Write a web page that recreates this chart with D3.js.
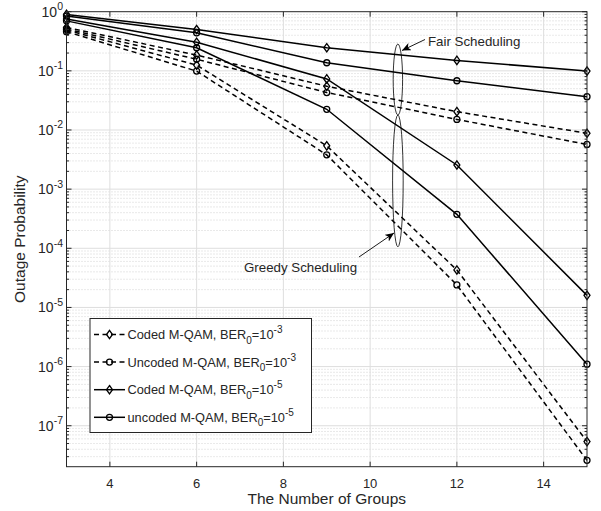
<!DOCTYPE html>
<meta charset="utf-8">
<style>
  body { margin: 0; background: #fff; }
  text { font-family: "Liberation Sans", Arial, Helvetica, sans-serif; fill: #262626; }
  .grid-major line { stroke: #dedede; stroke-width: 1; }
  .grid-minor line { stroke: #c8c8c8; stroke-width: 0.8; stroke-dasharray: 1,2; }
  .series { fill: none; stroke: #000; stroke-width: 1.5; }
  .mark { fill: none; stroke: #000; stroke-width: 1.3; }
</style>
<svg width="601" height="511"></svg>
<script src="https://d3js.org/d3.v7.min.js"></script>
<script>

// number of groups
var groups = [3, 6, 9, 12, 15];

// BER0 = 1e-3 (dashed)
var fairCoded3 = [0.54, 0.185, 0.055, 0.0204, 0.0088];
var fairUncoded3 = [0.51, 0.157, 0.043, 0.0151, 0.0057];
var greedyCoded3 = [0.49, 0.125, 0.0054, 4.3e-5, 5.4e-8];
var greedyUncoded3 = [0.46, 0.099, 0.0038, 2.4e-5, 2.6e-8];

// BER0 = 1e-5 (solid)
var fairCoded5 = [0.90, 0.50, 0.246, 0.15, 0.099];
var fairUncoded5 = [0.846, 0.44, 0.137, 0.068, 0.0366];
var greedyCoded5 = [0.75, 0.305, 0.073, 0.00256, 1.6e-5];
var greedyUncoded5 = [0.70, 0.246, 0.0224, 3.75e-4, 1.1e-6];

var xTicks = [4, 6, 8, 10, 12, 14];
var yTickExp = [0, -1, -2, -3, -4, -5, -6, -7];

var legendLabels = [
  {name: "Coded M-QAM, BER", exp: "-3"},
  {name: "Uncoded M-QAM, BER", exp: "-3"},
  {name: "Coded M-QAM, BER", exp: "-5"},
  {name: "uncoded M-QAM, BER", exp: "-5"}
];

var series = [
  {vals: fairCoded3, dash: true, mark: "d", leg: 0},
  {vals: fairUncoded3, dash: true, mark: "o", leg: 1},
  {vals: greedyCoded3, dash: true, mark: "d", leg: 0},
  {vals: greedyUncoded3, dash: true, mark: "o", leg: 1},
  {vals: fairCoded5, dash: false, mark: "d", leg: 2},
  {vals: fairUncoded5, dash: false, mark: "o", leg: 3},
  {vals: greedyCoded5, dash: false, mark: "d", leg: 2},
  {vals: greedyUncoded5, dash: false, mark: "o", leg: 3}
];

var svg = d3.select("svg");
var pLeft = 66.5, pRight = 587, pTop = 11.7, pBottom = 466.7;

var x = d3.scaleLinear().domain([3, 15]).range([pLeft, pRight]);
var y = d3.scaleLog().domain([2.03e-8, 1]).range([pBottom, pTop]);

var diamond = "M0,-4.2L3,0L0,4.2L-3,0Z";

// minor grid (log)
var minor = [];
for (var e = -8; e < 0; e++) {
  for (var k = 2; k <= 9; k++) {
    var v = k * Math.pow(10, e);
    if (v >= 2.03e-8 && v < 1) minor.push(v);
  }
}
svg.append("g").attr("class", "grid-minor")
  .selectAll("line").data(minor).enter().append("line")
  .attr("x1", pLeft).attr("x2", pRight)
  .attr("y1", d => y(d)).attr("y2", d => y(d));

svg.append("g").attr("class", "grid-major")
  .selectAll("line").data(yTickExp.slice(1)).enter().append("line")
  .attr("x1", pLeft).attr("x2", pRight)
  .attr("y1", d => y(Math.pow(10, d))).attr("y2", d => y(Math.pow(10, d)));

svg.append("g").attr("class", "grid-major")
  .selectAll("line").data(xTicks).enter().append("line")
  .attr("y1", pTop).attr("y2", pBottom)
  .attr("x1", d => x(d)).attr("x2", d => x(d));

// series
var line = d3.line().x((d, i) => x(groups[i])).y(d => y(d));

series.forEach(function(s) {
  svg.append("path").attr("class", "series")
    .attr("d", line(s.vals))
    .attr("stroke-dasharray", s.dash ? "5,3.5" : null);
  svg.append("g").selectAll(".mark").data(s.vals).enter()
    .append(s.mark == "d" ? "path" : "circle")
    .attr("class", "mark")
    .each(function(d, i) {
      var el = d3.select(this);
      if (s.mark == "d") el.attr("d", diamond).attr("transform", "translate(" + x(groups[i]) + "," + y(d) + ")");
      else el.attr("cx", x(groups[i])).attr("cy", y(d)).attr("r", 3);
    });
});

// box + ticks
var axis = svg.append("g").attr("stroke", "#262626").attr("fill", "none");
axis.append("rect").attr("x", pLeft).attr("y", pTop).attr("width", pRight - pLeft).attr("height", pBottom - pTop).attr("stroke-width", 1);

xTicks.forEach(function(t) {
  axis.append("line").attr("x1", x(t)).attr("x2", x(t)).attr("y1", pBottom).attr("y2", pBottom - 5);
  axis.append("line").attr("x1", x(t)).attr("x2", x(t)).attr("y1", pTop).attr("y2", pTop + 5);
});
yTickExp.forEach(function(t) {
  var yy = y(Math.pow(10, t));
  axis.append("line").attr("x1", pLeft).attr("x2", pLeft + 5).attr("y1", yy).attr("y2", yy);
  axis.append("line").attr("x1", pRight).attr("x2", pRight - 5).attr("y1", yy).attr("y2", yy);
});
minor.forEach(function(v) {
  var yy = y(v);
  axis.append("line").attr("x1", pLeft).attr("x2", pLeft + 2.5).attr("y1", yy).attr("y2", yy);
  axis.append("line").attr("x1", pRight).attr("x2", pRight - 2.5).attr("y1", yy).attr("y2", yy);
});

// tick labels
svg.append("g").selectAll("text").data(xTicks).enter().append("text")
  .attr("x", d => x(d)).attr("y", pBottom + 21)
  .attr("text-anchor", "middle").attr("font-size", 13)
  .text(d => d);

var yl = svg.append("g").selectAll("text").data(yTickExp).enter().append("text")
  .attr("x", 63).attr("y", d => y(Math.pow(10, d)) + 5)
  .attr("text-anchor", "end").attr("font-size", 14);
yl.append("tspan").text("10");
yl.append("tspan").attr("dy", -6.5).attr("font-size", 10.5).text(d => d == 0 ? "0" : "-" + Math.abs(d));

// axis labels
svg.append("text").attr("x", (pLeft + pRight) / 2).attr("y", 504)
  .attr("text-anchor", "middle").attr("font-size", 15.5).text("The Number of Groups");
svg.append("text").attr("transform", "translate(25," + (pTop + pBottom) / 2 + ") rotate(-90)")
  .attr("text-anchor", "middle").attr("font-size", 15.5).text("Outage Probability");

// annotations
var ellipses = [
  {g: 10.64, hi: 0.284, lo: 0.0179, rx: 4.7},
  {g: 10.64, hi: 0.0179, lo: 1.06e-4, rx: 5.3}
];
ellipses.forEach(function(el) {
  svg.append("ellipse")
    .attr("cx", x(el.g)).attr("cy", (y(el.hi) + y(el.lo)) / 2)
    .attr("rx", el.rx).attr("ry", (y(el.lo) - y(el.hi)) / 2)
    .attr("fill", "none").attr("stroke", "#000").attr("stroke-width", 0.8);
});

svg.append("defs").append("marker").attr("id", "arr")
  .attr("markerWidth", 10).attr("markerHeight", 10).attr("refX", 9).attr("refY", 4)
  .attr("orient", "auto").attr("markerUnits", "userSpaceOnUse")
  .append("path").attr("d", "M0,0L9,4L0,8L2.5,4Z").attr("fill", "#000");

svg.append("line").attr("x1", 425).attr("y1", 39.5).attr("x2", 402).attr("y2", 50.5)
  .attr("stroke", "#000").attr("stroke-width", 0.9).attr("marker-end", "url(#arr)");
svg.append("text").attr("x", 428).attr("y", 46).attr("font-size", 13.3).text("Fair Scheduling");

svg.append("line").attr("x1", 359).attr("y1", 257).attr("x2", 394).attr("y2", 233)
  .attr("stroke", "#000").attr("stroke-width", 0.9).attr("marker-end", "url(#arr)");
svg.append("text").attr("x", 244).attr("y", 271.5).attr("font-size", 13.3).text("Greedy Scheduling");

// legend
var lg = svg.append("g");
lg.append("rect").attr("x", 90).attr("y", 318.5).attr("width", 221.5).attr("height", 114)
  .attr("fill", "#fff").attr("stroke", "#262626").attr("stroke-width", 1);

var legSeries = [series[0], series[1], series[4], series[5]];
legSeries.forEach(function(s, i) {
  var yy = 334.5 + i * 27.6;
  lg.append("line").attr("x1", 94).attr("x2", 125).attr("y1", yy).attr("y2", yy)
    .attr("class", "series").attr("stroke-dasharray", s.dash ? "5,3.5" : null);
  if (s.mark == "d") lg.append("path").attr("class", "mark").attr("d", diamond).attr("transform", "translate(109.5," + yy + ")");
  else lg.append("circle").attr("class", "mark").attr("cx", 109.5).attr("cy", yy).attr("r", 3);
  var t = lg.append("text").attr("x", 127.5).attr("y", yy + 4.5).attr("font-size", 12.8);
  var L = legendLabels[s.leg];
  t.append("tspan").text(L.name);
  t.append("tspan").attr("dy", 4.5).attr("font-size", 10).text("0");
  t.append("tspan").attr("dy", -4.5).text("=10");
  t.append("tspan").attr("dy", -6).attr("font-size", 10).text(L.exp);
});

</script>
